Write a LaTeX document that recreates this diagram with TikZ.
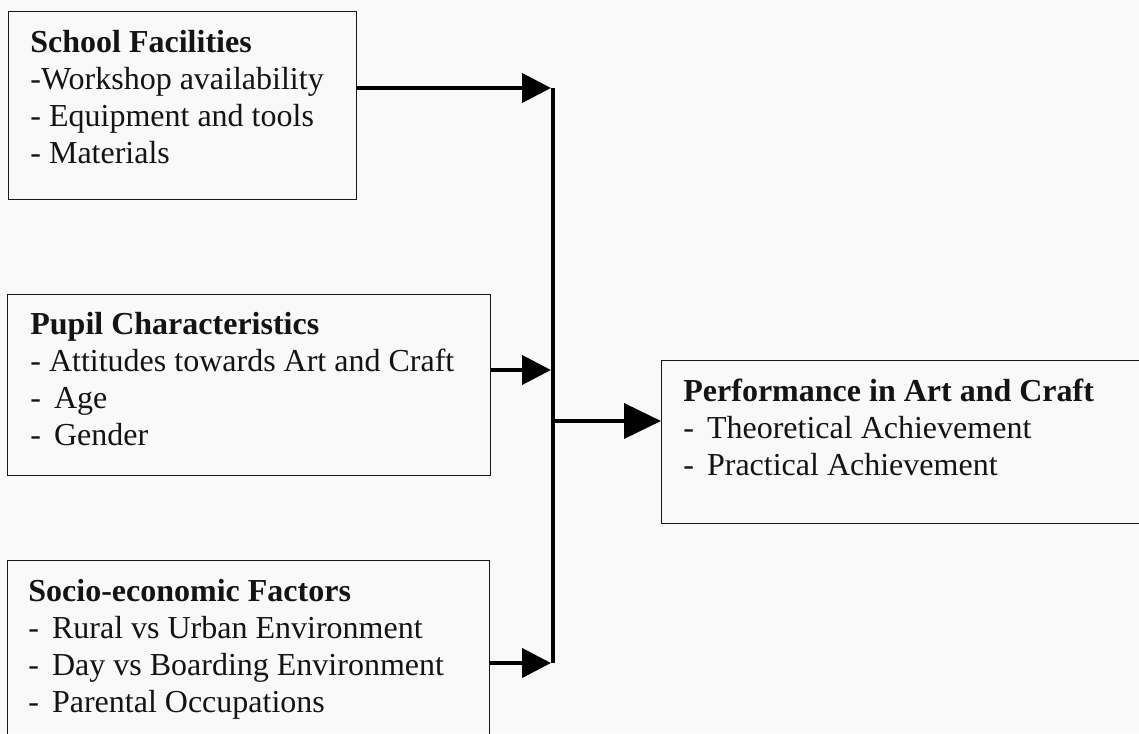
\documentclass[tikz,border=0pt]{standalone}
\usepackage{fontspec}
\setmainfont{Liberation Serif}
\usetikzlibrary{arrows.meta}
\begin{document}
\begin{tikzpicture}[x=0.5pt,y=-0.5pt,
  factorbox/.style={draw=black!90, line width=0.7pt, rectangle, inner sep=0pt, anchor=north west},
  % multi-line texts are placed by the baseline of their last line
  boxtext/.style={anchor=base west, inner sep=0pt, align=left, text=black!92,
    font=\fontsize{16pt}{18.5pt}\selectfont},
  feed/.style={line width=2pt, -{Triangle[length=14.5pt,width=14.5pt]}, shorten >=1pt},
  trunk/.style={line width=1.8pt},
  outarrow/.style={line width=2pt, -{Triangle[length=18.5pt,width=17.5pt]}}]
  % page area
  \fill[gray!5] (0,0) rectangle (1139,733);
  \useasboundingbox (0,0) rectangle (1139,733);
  \clip (0,0) rectangle (1139,733);

  % factor boxes
  \node[factorbox, minimum width=174pt, minimum height=94pt] (school) at (8,11) {};
  \node[factorbox, minimum width=241.5pt, minimum height=90.5pt] (pupil) at (7,294) {};
  \node[factorbox, minimum width=241pt, minimum height=100pt] (socio) at (7,560) {};
  \node[factorbox, minimum width=249.5pt, minimum height=81.5pt] (perf) at (661,360) {};

  % box texts
  \node[boxtext] (schooltxt) at (30,163) {\textbf{School Facilities}\\
    -Workshop availability\\- Equipment and tools\\- Materials};
  \node[boxtext] (pupiltxt) at (30,445) {\textbf{Pupil Characteristics}\\
    - Attitudes towards Art and Craft\\-\hspace{2.5pt} Age\\-\hspace{2.5pt} Gender};
  \node[boxtext] (sociotxt) at (28,712) {\textbf{Socio-economic Factors}\\
    -\hspace{2.5pt} Rural vs Urban Environment\\-\hspace{2.5pt} Day vs Boarding Environment\\
    -\hspace{2.5pt} Parental Occupations};
  \node[boxtext] (perftxt) at (683,475) {\textbf{Performance in Art and Craft}\\
    -\hspace{2.5pt} Theoretical Achievement\\-\hspace{2.5pt} Practical Achievement};

  % junction points on the collecting line
  \coordinate (j1) at (553,88);
  \coordinate (j2) at (553,370);
  \coordinate (j3) at (553,663);
  \coordinate (jo) at (553,421);

  % collecting line and arrows
  \draw[trunk] (j1) -- (j3);
  \draw[feed] (school.east |- j1) -- (j1);
  \draw[feed] (pupil.east |- j2) -- (j2);
  \draw[feed] (socio.east |- j3) -- (j3);
  \draw[outarrow] (jo) -- (perf.west |- jo);
\end{tikzpicture}
\end{document}
